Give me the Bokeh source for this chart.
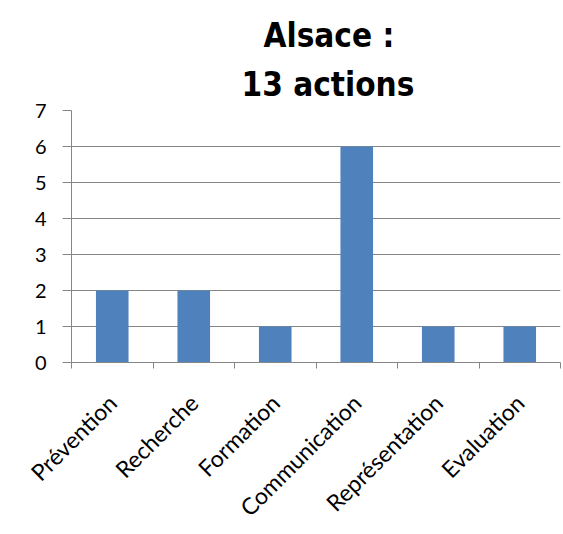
from bokeh.plotting import figure
from bokeh.models import Range1d, FixedTicker, Title, ColumnDataSource
from bokeh.embed import file_html
from bokeh.resources import INLINE
import math

categories = ["Prévention", "Recherche", "Formation", "Communication", "Représentation", "Evaluation"]
values = [2, 2, 1, 6, 1, 1]
y_ticks = [0, 1, 2, 3, 4, 5, 6, 7]
title_line1 = "Alsace :"
title_line2 = "13 actions"

n = len(categories)
centers = [i + 0.5 for i in range(n)]
bounds = list(range(n + 1))

src = ColumnDataSource(dict(x=centers, top=values))

p = figure(width=563, height=534, output_backend="svg", toolbar_location=None,
           x_range=Range1d(0, n), y_range=Range1d(0, 7),
           min_border_left=71, min_border_right=3, min_border_top=110, min_border_bottom=172)
p.outline_line_color = None
p.background_fill_color = "white"

p.vbar(x="x", top="top", width=0.4, source=src, fill_color="#4F81BD", line_color=None)

grid_col = "#868686"
# y axis
p.yaxis.ticker = FixedTicker(ticks=y_ticks)
p.yaxis.axis_line_color = grid_col
p.yaxis.major_tick_line_color = grid_col
p.yaxis.major_tick_in = 0
p.yaxis.major_tick_out = 9
p.yaxis.minor_tick_line_color = None
p.yaxis.major_label_text_font = "Lato"
p.yaxis.major_label_text_font_size = "20px"
p.yaxis.major_label_text_color = "black"
p.yaxis.major_label_standoff = 16

# x axis
p.xaxis.ticker = FixedTicker(ticks=centers, minor_ticks=bounds)
p.xaxis.major_label_overrides = {c: lab for c, lab in zip(centers, categories)}
p.xaxis.axis_line_color = grid_col
p.xaxis.major_tick_line_color = None
p.xaxis.major_tick_out = 0
p.xaxis.major_tick_in = 0
p.xaxis.minor_tick_line_color = grid_col
p.xaxis.minor_tick_in = 0
p.xaxis.minor_tick_out = 6
p.xaxis.major_label_orientation = math.pi / 4
p.xaxis.major_label_text_font = "Lato"
p.xaxis.major_label_text_font_size = "23px"
p.xaxis.major_label_text_color = "black"
p.xaxis.major_label_standoff = 30

p.xgrid.grid_line_color = None
p.ygrid.grid_line_color = grid_col
p.ygrid.grid_line_width = 1

title_font = "'DejaVu Sans Condensed', 'DejaVu Sans'"
p.title = Title(text=title_line1, align="left", text_font=title_font, text_color="black",
                text_font_size="33px", text_font_style="bold", offset=192, standoff=2)
p.add_layout(Title(text=title_line2, align="left", text_font=title_font, text_color="black",
                   text_font_size="33px", text_font_style="bold", offset=170, standoff=14), "above")

open("out.html", "w").write(file_html(p, INLINE))
